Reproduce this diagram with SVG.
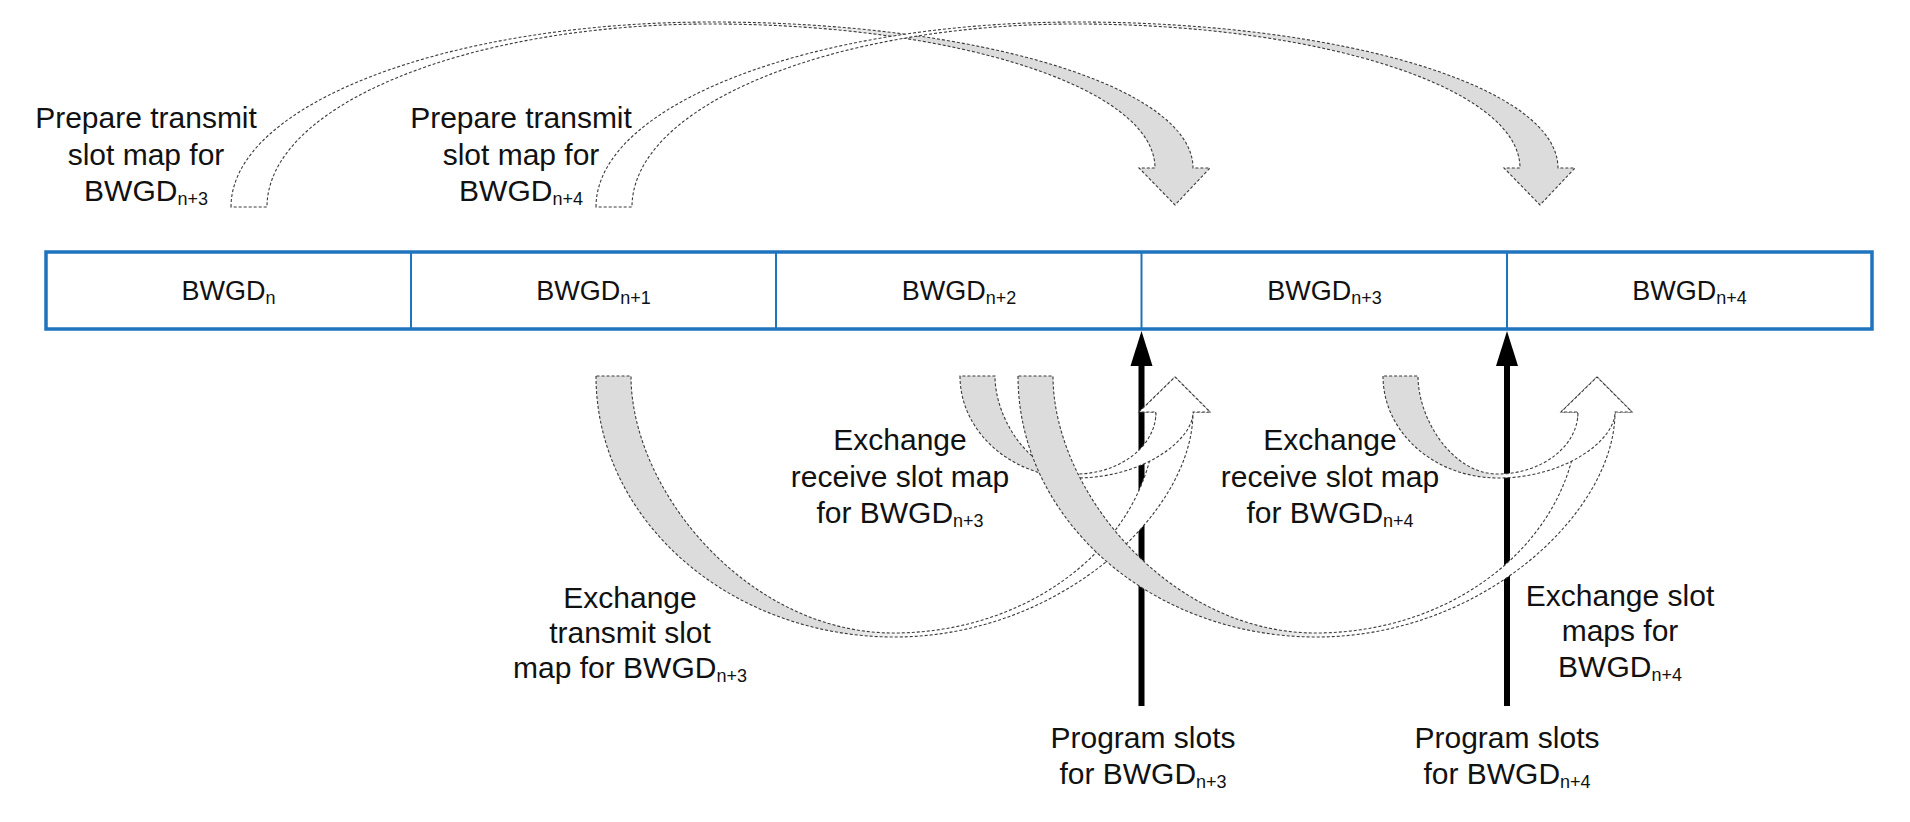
<svg xmlns="http://www.w3.org/2000/svg" width="1910" height="822" viewBox="0 0 1910 822">
<style>
.band{stroke:#3a3a3a;stroke-width:1.1;stroke-dasharray:3 2;stroke-linejoin:miter}
.lbl{font-family:"Liberation Sans",Arial,sans-serif;font-size:30px;fill:#111;text-anchor:middle}
.cell{font-family:"Liberation Sans",Arial,sans-serif;font-size:27px;fill:#111;text-anchor:middle}
.sub{font-size:18px}
.blk{stroke:#000;stroke-width:6;fill:none}
</style>
<defs>
<linearGradient id="gTop" x1="0" y1="0" x2="1" y2="0">
<stop offset="0" stop-color="#fff"/><stop offset="0.52" stop-color="#fff"/><stop offset="0.72" stop-color="#dcdcdc"/><stop offset="1" stop-color="#dcdcdc"/>
</linearGradient>
<linearGradient id="gBig" x1="0" y1="0" x2="1" y2="0">
<stop offset="0" stop-color="#dcdcdc"/><stop offset="0.4" stop-color="#dcdcdc"/><stop offset="0.52" stop-color="#fff"/><stop offset="1" stop-color="#fff"/>
</linearGradient>
<linearGradient id="gSmall" x1="0" y1="0" x2="1" y2="0">
<stop offset="0" stop-color="#dcdcdc"/><stop offset="0.38" stop-color="#dcdcdc"/><stop offset="0.52" stop-color="#fff"/><stop offset="1" stop-color="#fff"/>
</linearGradient>
</defs>
<rect width="1910" height="822" fill="#fff"/>

<g id="bwgd-row">
<rect x="46" y="252" width="1826" height="77" fill="#fff" stroke="#1f74bd" stroke-width="3.5"/>
<g stroke="#1f74bd" stroke-width="2">
<line x1="411" y1="252" x2="411" y2="329"/>
<line x1="776" y1="252" x2="776" y2="329"/>
<line x1="1141.5" y1="252" x2="1141.5" y2="329"/>
<line x1="1507" y1="252" x2="1507" y2="329"/>
</g>
<g id="cell-n"><text class="cell" x="228.5" y="300">BWGD<tspan class="sub" dy="4">n</tspan></text></g>
<g id="cell-n1"><text class="cell" x="593.5" y="300">BWGD<tspan class="sub" dy="4">n+1</tspan></text></g>
<g id="cell-n2"><text class="cell" x="959" y="300">BWGD<tspan class="sub" dy="4">n+2</tspan></text></g>
<g id="cell-n3"><text class="cell" x="1324.5" y="300">BWGD<tspan class="sub" dy="4">n+3</tspan></text></g>
<g id="cell-n4"><text class="cell" x="1689.5" y="300">BWGD<tspan class="sub" dy="4">n+4</tspan></text></g>
</g>

<g id="connectors">
<g id="prog-arrow-n3">
<line class="blk" x1="1141.5" y1="706" x2="1141.5" y2="362"/>
<polygon points="1130.5,366 1152.5,366 1141.5,331" fill="#000"/>
</g>
<g id="prog-arrow-n4">
<line class="blk" x1="1507" y1="706" x2="1507" y2="362"/>
<polygon points="1496,366 1518,366 1507,331" fill="#000"/>
</g>

<path id="prep-n3" class="band" fill="url(#gTop)" d="M 231 207 C 231 105 446 22 712 22 C 978 22 1193 87 1193 168 L 1210 168 L 1175 205 L 1139 168 L 1155 168 C 1155 88 956 24 711 24 C 466 24 267 106 267 207 Z"/>
<path id="prep-n4" class="band" fill="url(#gTop)" transform="translate(365,0)" d="M 231 207 C 231 105 446 22 712 22 C 978 22 1193 87 1193 168 L 1210 168 L 1175 205 L 1139 168 L 1155 168 C 1155 88 956 24 711 24 C 466 24 267 106 267 207 Z"/>

<path id="tx-n3" class="band" fill="url(#gBig)" d="M 596 376 C 596 520 729.6 637 894.5 637 C 1059.4 637 1193 512.7 1193 412 L 1210 412 L 1175 377 L 1139 412 L 1156 412 C 1156 534 1038.5 633 893.5 633 C 748.5 633 631 491 631 376 Z"/>
<path id="rx-n3" class="band" fill="url(#gSmall)" d="M 960 376 C 960 432.3 1012.2 478 1076.5 478 C 1140.8 478 1193 441.5 1193 412 L 1210 412 L 1175 377 L 1139 412 L 1156 412 C 1156 446.2 1120 474 1075.5 474 C 1031 474 995 419.9 995 376 Z"/>
<path id="maps-n4" class="band" fill="url(#gBig)" transform="translate(422,0)" d="M 596 376 C 596 520 729.6 637 894.5 637 C 1059.4 637 1193 512.7 1193 412 L 1210 412 L 1175 377 L 1139 412 L 1156 412 C 1156 534 1038.5 633 893.5 633 C 748.5 633 631 491 631 376 Z"/>
<path id="rx-n4" class="band" fill="url(#gSmall)" transform="translate(422,0)" d="M 961 376 C 961 432.3 1012.2 478 1076.5 478 C 1140.8 478 1193 441.5 1193 412 L 1210 412 L 1175 377 L 1139 412 L 1156 412 C 1156 446.2 1120 474 1075.5 474 C 1031 474 996 419.9 996 376 Z"/>
</g>

<g id="label-prep-n3">
<text class="lbl" x="146" y="128">Prepare transmit</text>
<text class="lbl" x="146" y="165">slot map for</text>
<text class="lbl" x="146" y="201">BWGD<tspan class="sub" dy="4">n+3</tspan></text>
</g>
<g id="label-prep-n4">
<text class="lbl" x="521" y="128">Prepare transmit</text>
<text class="lbl" x="521" y="165">slot map for</text>
<text class="lbl" x="521" y="201">BWGD<tspan class="sub" dy="4">n+4</tspan></text>
</g>
<g id="label-rx-n3">
<text class="lbl" x="900" y="450">Exchange</text>
<text class="lbl" x="900" y="487">receive slot map</text>
<text class="lbl" x="900" y="523">for BWGD<tspan class="sub" dy="4">n+3</tspan></text>
</g>
<g id="label-rx-n4">
<text class="lbl" x="1330" y="450">Exchange</text>
<text class="lbl" x="1330" y="487">receive slot map</text>
<text class="lbl" x="1330" y="523">for BWGD<tspan class="sub" dy="4">n+4</tspan></text>
</g>
<g id="label-tx-n3">
<text class="lbl" x="630" y="608">Exchange</text>
<text class="lbl" x="630" y="643">transmit slot</text>
<text class="lbl" x="630" y="678">map for BWGD<tspan class="sub" dy="4">n+3</tspan></text>
</g>
<g id="label-maps-n4">
<text class="lbl" x="1620" y="606">Exchange slot</text>
<text class="lbl" x="1620" y="641">maps for</text>
<text class="lbl" x="1620" y="677">BWGD<tspan class="sub" dy="4">n+4</tspan></text>
</g>
<g id="label-prog-n3">
<text class="lbl" x="1143" y="748">Program slots</text>
<text class="lbl" x="1143" y="784">for BWGD<tspan class="sub" dy="4">n+3</tspan></text>
</g>
<g id="label-prog-n4">
<text class="lbl" x="1507" y="748">Program slots</text>
<text class="lbl" x="1507" y="784">for BWGD<tspan class="sub" dy="4">n+4</tspan></text>
</g>
</svg>
